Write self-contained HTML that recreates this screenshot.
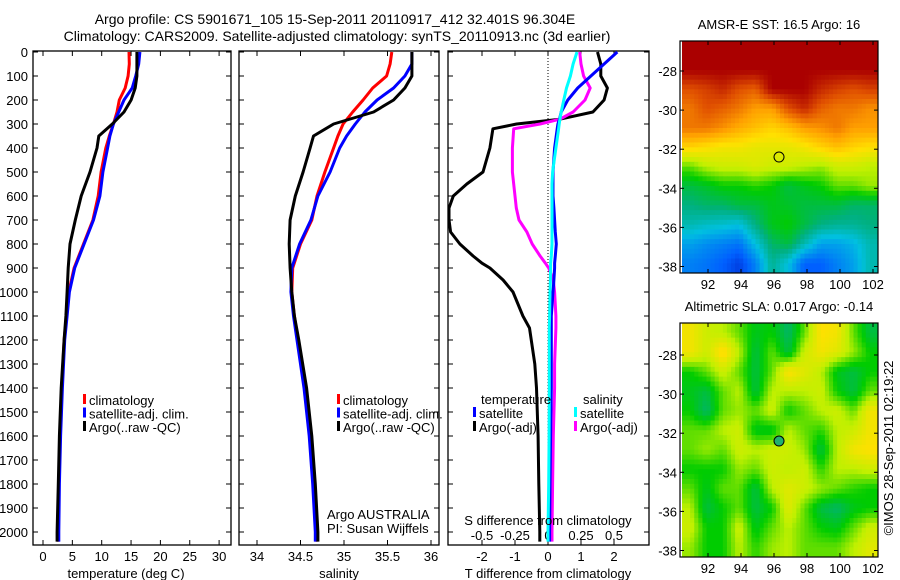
<!DOCTYPE html>
<html><head><meta charset="utf-8"><style>
body{margin:0;background:#fff}
svg{display:block;font-family:"Liberation Sans",sans-serif}
</style></head><body>
<svg id="fig" width="900" height="580" viewBox="0 0 900 580" xmlns="http://www.w3.org/2000/svg">
<rect width="900" height="580" fill="#fff"/>
<text x="335" y="24" font-size="14" text-anchor="middle">Argo profile: CS 5901671_105 15-Sep-2011 20110917_412 32.401S 96.304E</text>
<text x="337" y="41" font-size="14" text-anchor="middle">Climatology: CARS2009. Satellite-adjusted climatology: synTS_20110913.nc (3d earlier)</text>
<g id="g"></g>
</svg>
<script>
// ---- data ----
const depthT = [0,50,100,150,200,250,300,350,400,500,600,700,800,900,1000,1100,1200,1400,1600,1800,2000,2040];
const tempClim = [14.65,14.7,14.5,14,13,12.6,12,11.3,10.7,9.9,9.4,8.5,6.9,5.3,4.4,4.0,3.6,3.2,2.9,2.7,2.6,2.6];
const tempSat = [16.5,16.3,15.8,15.2,13.8,12.9,12,11.4,11,10.2,9.7,8.6,7.0,5.4,4.5,4.1,3.7,3.3,3.0,2.8,2.7,2.7];
const tempArgo = [16,16,16,15.7,15,13.8,11.8,9.5,9.2,8,6.5,5.5,4.6,4.3,4.1,3.9,3.6,3.1,2.8,2.6,2.4,2.4];
const salClim = [35.55,35.53,35.49,35.33,35.22,35.1,34.99,34.93,34.88,34.78,34.69,34.63,34.5,34.41,34.4,34.43,34.47,34.55,34.61,34.65,34.68,34.69];
const salSat = [35.78,35.78,35.7,35.57,35.38,35.24,35.13,35.03,34.95,34.84,34.7,34.62,34.49,34.4,34.39,34.42,34.46,34.54,34.6,34.64,34.67,34.67];
const salArgo = [35.78,35.78,35.78,35.7,35.57,35.34,34.88,34.65,34.61,34.53,34.44,34.38,34.37,34.38,34.4,34.43,34.48,34.57,34.63,34.67,34.7,34.7];
const depthD = [0,50,100,150,200,250,280,300,320,400,500,550,600,650,700,750,800,850,880,900,950,1000,1100,1150,1300,1400,1600,1800,2000,2040];
const dTSat = [2.1,1.7,1.3,0.9,0.6,0.4,0.35,0.3,0.28,0.2,0.15,0.15,0.15,0.18,0.2,0.22,0.25,0.22,0.2,0.2,0.18,0.15,0.1,0.1,0.1,0.1,0.08,0.06,0.05,0.05];
const dTArgo = [1.5,1.6,1.6,1.8,1.7,1.36,0.36,-0.95,-1.67,-1.76,-1.97,-2.46,-2.87,-3.0,-3.0,-2.95,-2.67,-2.27,-2.0,-1.76,-1.36,-1.06,-0.76,-0.56,-0.4,-0.35,-0.3,-0.28,-0.25,-0.25];
const dSSat = [0.22,0.19,0.17,0.14,0.12,0.1,0.09,0.085,0.08,0.06,0.035,0.03,0.03,0.03,0.03,0.03,0.03,0.025,0.02,0.02,0.018,0.015,0.012,0.01,0.01,0.01,0.008,0.005,0,0];
const dSArgo = [0.24,0.25,0.27,0.32,0.28,0.19,0.09,-0.06,-0.26,-0.27,-0.27,-0.26,-0.25,-0.24,-0.22,-0.16,-0.12,-0.06,-0.02,0.005,0.04,0.05,0.06,0.06,0.05,0.05,0.04,0.035,0.03,0.03];
const depthTicks = [0,100,200,300,400,500,600,700,800,900,1000,1100,1200,1300,1400,1500,1600,1700,1800,1900,2000];
const tempTicks = [0,5,10,15,20,25,30];
const salTicks = [34,34.5,35,35.5,36];
const salTickLabels = ["34","34.5","35","35.5","36"];
const dTTicks = [-2,-1,0,1,2];
const dSTicks = [-0.5,-0.25,0,0.25,0.5];
const dSTickLabels = ["-0.5","-0.25","0","0.25","0.5"];
const lonTicks = [92,94,96,98,100,102];
const latTicks = [-28,-30,-32,-34,-36,-38];
const argoLon = 96.304, argoLat = -32.401;
const sstGrid = [
[1,1,1,1,1,1,1,1,1,1,1,1],
[1,1,1,1,1,1,1,1,1,1,1,1],
[.9,.92,.95,.9,.88,1,1,1,.95,.92,.9,.92],
[.85,.9,.88,.85,.8,.8,.9,.95,.88,.85,.85,.82],
[.85,.85,.82,.78,.75,.72,.75,.8,.82,.85,.8,.8],
[.72,.7,.68,.68,.66,.66,.66,.68,.72,.75,.72,.7],
[.55,.6,.62,.62,.64,.62,.62,.6,.58,.62,.62,.6],
[.45,.47,.5,.5,.52,.5,.45,.48,.5,.55,.55,.58],
[.4,.42,.42,.45,.45,.48,.47,.45,.45,.45,.42,.42],
[.35,.33,.32,.3,.4,.48,.5,.45,.4,.38,.38,.4],
[.25,.22,.2,.18,.3,.42,.45,.35,.25,.25,.28,.35],
[.2,.18,.15,.1,.2,.38,.3,.15,.15,.2,.25,.35]];
const slaGrid = [
[.68,.62,.6,.55,.48,.5,.42,.55,.7,.68,.55,.45],
[.68,.62,.72,.6,.45,.55,.45,.62,.68,.65,.58,.5],
[.5,.55,.62,.55,.45,.55,.7,.65,.6,.48,.45,.5],
[.48,.45,.55,.6,.45,.6,.6,.6,.62,.5,.45,.55],
[.5,.42,.55,.58,.55,.62,.5,.55,.6,.62,.55,.68],
[.55,.55,.6,.62,.48,.48,.6,.55,.52,.6,.62,.68],
[.55,.58,.55,.62,.6,.62,.62,.58,.45,.6,.68,.7],
[.5,.5,.5,.58,.55,.62,.6,.62,.52,.6,.6,.62],
[.55,.48,.55,.55,.45,.6,.65,.62,.58,.55,.52,.5],
[.6,.45,.5,.55,.45,.5,.65,.55,.45,.42,.48,.5],
[.62,.5,.5,.62,.48,.55,.6,.55,.5,.48,.55,.62],
[.58,.5,.5,.6,.52,.58,.6,.55,.55,.55,.6,.65]];

// ---- helpers ----
const NS="http://www.w3.org/2000/svg";
const G=document.getElementById('g');
function mk(tag,attrs,parent){const e=document.createElementNS(NS,tag);for(const k in attrs)e.setAttribute(k,attrs[k]);(parent||G).appendChild(e);return e;}
function txt(x,y,s,size,anchor,parent){const e=mk('text',{x:x,y:y,'font-size':size,'text-anchor':anchor||'middle'},parent);e.textContent=s;return e;}
const Y=d=>52+d*0.24;
const PB=545;
function panel(x0,x1,name){
  const r=mk('rect',{x:x0,y:51,width:x1-x0,height:PB-51,fill:'none',stroke:'#000','stroke-width':1.3});
  
  
  depthTicks.forEach(d=>{
    mk('line',{x1:x0,x2:x0+5,y1:Y(d),y2:Y(d),stroke:'#000'});
    mk('line',{x1:x1,x2:x1-5,y1:Y(d),y2:Y(d),stroke:'#000'});
  });
}
function profile(xs,ds,xf,color,name){
  let p='';
  for(let i=0;i<xs.length;i++){
    p+=(i?'L':'M')+xf(xs[i]).toFixed(1)+','+Y(ds[i]).toFixed(1);
  }
  const e=mk('path',{d:p,fill:'none',stroke:color,'stroke-width':3,'stroke-linejoin':'round'});
  
  
}

// ---- panel 1: temperature ----
const xT=t=>43+t*5.87;
panel(33,231,'temperature-panel');
tempTicks.forEach(t=>{mk('line',{x1:xT(t),x2:xT(t),y1:51,y2:56,stroke:'#000'});mk('line',{x1:xT(t),x2:xT(t),y1:PB,y2:PB-5,stroke:'#000'});txt(xT(t),561,String(t),13);});
depthTicks.forEach(d=>{const e=txt(28,Y(d)+5,String(d),13,'end');});
profile(tempClim,depthT,xT,'#f00','temp-climatology-line');
profile(tempSat,depthT,xT,'#00f','temp-satellite-line');
profile(tempArgo,depthT,xT,'#000','temp-argo-line');
txt(126,578,'temperature (deg C)',13);

// ---- panel 2: salinity ----
const xS=s=>257+(s-34)*87;
panel(239,439,'salinity-panel');
salTicks.forEach((s,i)=>{mk('line',{x1:xS(s),x2:xS(s),y1:51,y2:56,stroke:'#000'});mk('line',{x1:xS(s),x2:xS(s),y1:PB,y2:PB-5,stroke:'#000'});txt(xS(s),561,salTickLabels[i],13);});
profile(salClim,depthT,xS,'#f00','sal-climatology-line');
profile(salSat,depthT,xS,'#00f','sal-satellite-line');
profile(salArgo,depthT,xS,'#000','sal-argo-line');
txt(339,578,'salinity',13);
txt(327,519,'Argo AUSTRALIA',13,'start');
txt(327,533,'PI: Susan Wijffels',13,'start');

// legends
function legend(x,y,label,color,name){
  const g=mk('g',{});
  
  
  mk('rect',{x:x,y:y-11,width:3,height:10,fill:color},g);
  txt(x+6,y,label,13,'start',g);
}
[['climatology','#f00'],['satellite-adj. clim.','#00f'],['Argo(..raw -QC)','#000']].forEach((l,i)=>{
  legend(83,405+i*13.5,l[0],l[1],'temp-legend-entry');
  legend(337,405+i*13.5,l[0],l[1],'sal-legend-entry');
});

// ---- panel 3: differences ----
const xDT=t=>548+t*33;
const xDS=s=>548+s*132;
panel(448,649,'difference-panel');
mk('line',{x1:548,x2:548,y1:52,y2:PB,stroke:'#000','stroke-dasharray':'1,2'});
dTTicks.forEach(t=>{mk('line',{x1:xDT(t),x2:xDT(t),y1:51,y2:56,stroke:'#000'});mk('line',{x1:xDT(t),x2:xDT(t),y1:PB,y2:PB-5,stroke:'#000'});txt(xDT(t),561,String(t),13);});
dSTicks.forEach((s,i)=>{txt(xDS(s),540,dSTickLabels[i],13);});
profile(dTArgo,depthD,xDT,'#000','dT-argo-line');
profile(dSArgo,depthD,xDS,'#f0f','dS-argo-line');
profile(dTSat,depthD,xDT,'#00f','dT-satellite-line');
profile(dSSat,depthD,xDS,'#0ff','dS-satellite-line');
txt(548,525,'S difference from climatology',13);
txt(548,578,'T difference from climatology',13);
txt(481,404,'temperature',13,'start');
txt(583,404,'salinity',13,'start');
legend(473,418,'satellite','#00f','dT-legend-satellite');
legend(473,432,'Argo(-adj)','#000','dT-legend-argo');
legend(574,418,'satellite','#0ff','dS-legend-satellite');
legend(574,432,'Argo(-adj)','#f0f','dS-legend-argo');

// ---- maps ----
const stops=[[0,[0,0,170]],[.15,[0,96,255]],[.3,[0,192,224]],[.4,[0,176,128]],[.5,[0,204,0]],[.6,[192,240,0]],[.7,[255,224,0]],[.8,[255,160,0]],[.9,[224,80,0]],[1,[170,0,0]]];
function cmap(v){v=Math.max(0,Math.min(1,v));for(let i=1;i<stops.length;i++){if(v<=stops[i][0]){const a=stops[i-1],b=stops[i],f=(v-a[0])/(b[0]-a[0]);return 'rgb('+a[1].map((c,k)=>Math.round(c+(b[1][k]-c)*f)).join(',')+')';}}return 'rgb(170,0,0)';}
function sample(grid,r,c){
  const nr=grid.length,nc=grid[0].length;
  r=Math.max(0,Math.min(nr-1,r));c=Math.max(0,Math.min(nc-1,c));
  const r0=Math.floor(r),c0=Math.floor(c),r1=Math.min(nr-1,r0+1),c1=Math.min(nc-1,c0+1),fr=r-r0,fc=c-c0;
  return grid[r0][c0]*(1-fr)*(1-fc)+grid[r0][c1]*(1-fr)*fc+grid[r1][c0]*fr*(1-fc)+grid[r1][c1]*fr*fc;
}
function map(y0,y1,latRef,grid,title,name,circleFill){
  const x0=680,x1=878;
  const lx=l=>708+(l-92)*16.5;
  const ly=l=>latRef+(-28-l)*19.55;
  const g=mk('g',{});
  
  
  const nr=grid.length,nc=grid[0].length,S=4;
  const NR=nr*S,NC=nc*S,cw=(x1-x0-2)/NC,ch=(y1-y0)/NR;
  for(let r=0;r<NR;r++)for(let c=0;c<NC;c++){
    const v=sample(grid,(r+0.5)/S-0.5,(c+0.5)/S-0.5);
    mk('rect',{x:(x0+2+c*cw).toFixed(2),y:(y0+r*ch).toFixed(2),width:(cw+0.5).toFixed(2),height:(ch+0.5).toFixed(2),fill:cmap(v)},g);
  }
  mk('rect',{x:x0,y:y0,width:x1-x0,height:y1-y0,fill:'none',stroke:'#000','stroke-width':1.2},g);
  lonTicks.forEach(l=>{mk('line',{x1:lx(l),x2:lx(l),y1:y1,y2:y1-4,stroke:'#000'},g);mk('line',{x1:lx(l),x2:lx(l),y1:y0,y2:y0+4,stroke:'#000'},g);txt(lx(l),y1+16,String(l),13,'middle',g);});
  latTicks.forEach(l=>{mk('line',{x1:x0,x2:x0+4,y1:ly(l),y2:ly(l),stroke:'#000'},g);mk('line',{x1:x1,x2:x1-4,y1:ly(l),y2:ly(l),stroke:'#000'},g);txt(x0-3,ly(l)+5,String(l),13,'end',g);});
  txt(779,y0-12,title,13,'middle',g);
  mk('circle',{cx:lx(argoLon),cy:ly(argoLat),r:5,fill:circleFill,stroke:'#000','stroke-width':1},g);
}
map(41,273,71,sstGrid,'AMSR-E SST: 16.5 Argo: 16','sst-map','none');
map(323,557,355,slaGrid,'Altimetric SLA: 0.017 Argo: -0.14','sla-map','#20b070');
const cr=txt(0,0,'©IMOS 28-Sep-2011 02:19:22',13,'middle');
cr.setAttribute('transform','translate(893,448) rotate(-90)');


</script>
</body></html>
